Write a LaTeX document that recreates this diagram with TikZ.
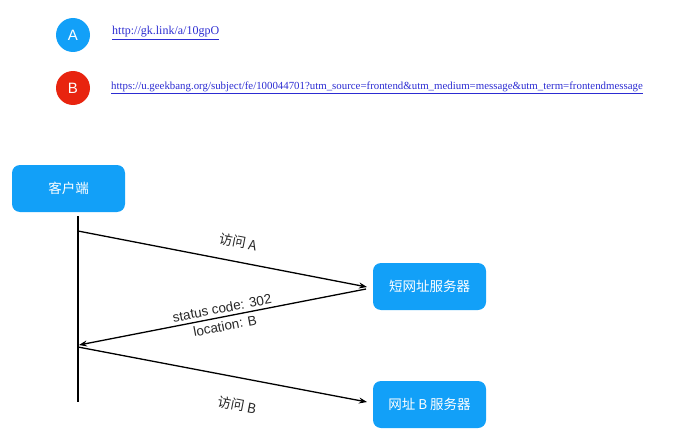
\documentclass[tikz,border=0pt]{standalone}
\usepackage{fontspec}
\setmainfont{Liberation Sans}
\newfontfamily\cjk{Noto Sans CJK SC}
\newfontfamily\urlfont{Liberation Serif}
\usetikzlibrary{arrows.meta}
\definecolor{boxblue}{HTML}{12A0F8}
\definecolor{circred}{HTML}{E8240F}
\definecolor{linkblue}{HTML}{2C2CD2}
\tikzset{
  bluebox/.style={draw=none, fill=boxblue, rounded corners=8pt, minimum width=113pt, minimum height=47pt, text=white, font=\cjk\fontsize{13.5}{15}\selectfont},
  circ/.style={circle, minimum size=34pt, inner sep=0pt, text=white, font=\fontsize{15}{17}\selectfont},
  link/.style={anchor=west, inner sep=0pt, text=linkblue},
  msg/.style={draw=black, line width=1.3pt, -{Stealth[length=8pt,width=6pt]}},
  lbl/.style={inner sep=0pt, font=\fontsize{13.5}{17}\selectfont, text=black!85},
}
\begin{document}
\begin{tikzpicture}[x=1pt,y=-1pt]
\useasboundingbox (0,0) rectangle (677,444);
\node[circ, fill=boxblue] (ca) at (73,35) {A};
\node[circ, fill=circred] (cb) at (73,88) {B};
\node[link, font=\urlfont\fontsize{12}{14}\selectfont] (la) at (112,33) {\underline{http://gk.link/a/10gpO}};
\node[link, font=\urlfont\fontsize{10.85}{13}\selectfont] (lb) at (111,88) {\underline{https://u.geekbang.org/subject/fe/100044701?utm\_source=frontend\&utm\_medium=message\&utm\_term=frontendmessage}};
\node[bluebox] (client) at (68.5,188.5) {客户端};
\node[bluebox] (s1) at (429.5,286.5) {短网址服务器};
\node[bluebox] (s2) at (429.5,404.5) {网址 B 服务器};
\coordinate (ltop) at (78,216);
\coordinate (lbot) at (78,402);
\draw[line width=1.3pt] (ltop) -- (lbot);
\coordinate (p1) at (78,231);
\coordinate (q1) at (367,287);
\coordinate (q2) at (366,289);
\coordinate (p2) at (79,345);
\coordinate (p3) at (78,347);
\coordinate (q3) at (367,402);
\draw[msg] (p1) -- (q1);
\draw[msg] (q2) -- (p2);
\draw[msg] (p3) -- (q3);
\node[lbl, rotate=-11, font=\cjk\fontsize{13.5}{17}\selectfont] (t1) at (238,242) {访问 A};
\node[lbl, rotate=11] (t2a) at (222,308) {status code: 302};
\node[lbl, rotate=11] (t2b) at (225,326) {location: B};
\node[lbl, rotate=-11, font=\cjk\fontsize{13.5}{17}\selectfont] (t3) at (237,405) {访问 B};
\end{tikzpicture}
\end{document}
